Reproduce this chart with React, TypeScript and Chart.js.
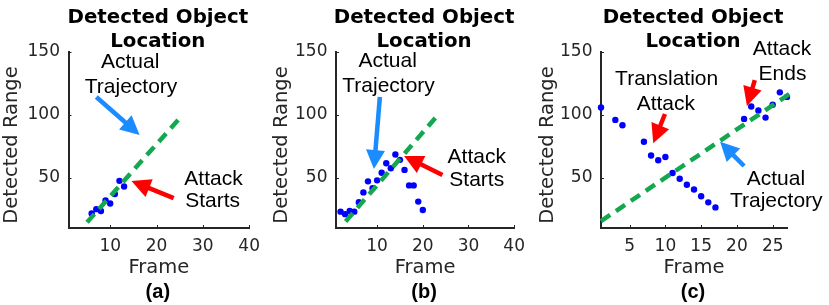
import React, { useEffect, useRef } from 'react';
import { Chart, registerables } from 'chart.js';

Chart.register(...registerables);

// ---------- data ----------
const yTickValues = [50, 100, 150];
const xTickValuesAB = [10, 20, 30, 40];
const xTickValuesC = [5, 10, 15, 20, 25];

const framesA = [6, 7, 8, 9, 10, 11, 12, 13];
const rangeA = [21.5, 25, 23.5, 32, 29.5, 37, 47.5, 43];
const trajFramesA = [5, 25.3];
const trajRangeA = [14.5, 98.6];

const framesB = [2, 3, 4, 5, 6, 7, 8, 9, 10, 11, 12, 13, 14, 15, 16, 17, 18, 19, 20];
const rangeB = [23, 21, 23.5, 23, 30.5, 38.3, 47.1, 41.7, 47.9, 54, 61.5, 57.5, 68.5, 64.2, 56.2, 43.9, 43.9, 31, 24.3];
const trajFramesB = [3.1, 23.4];
const trajRangeB = [15.2, 100.3];

const framesC = [1, 3, 4, 7, 8, 9, 10, 11, 12, 13, 14, 15, 16, 17, 21, 22, 23, 24, 25, 26, 27];
const rangeC = [105.9, 96, 91.7, 78.6, 67.7, 63.9, 66.5, 53.7, 49.2, 44.4, 40.6, 35.2, 30.4, 26.4, 96.8, 106.7, 103.5, 97.8, 108, 117.9, 114.3];
const trajFramesC = [1, 27.7];
const trajRangeC = [15.5, 118];

const titleLines = ['Detected Object', 'Location'];
const xLabel = 'Frame';
const yLabel = 'Detected Range';

// ---------- styles ----------
const AXIS = '#262626';
const GREEN = '#13a84f';
const DOT = '#0000ff';
const BLUE_ARROW = '#1a8cff';
const RED_ARROW = '#ff0000';

type Txt = { t: string; x: number; y: number };
type Arr = { x1: number; y1: number; x2: number; y2: number; c: string };

const panels = [
  {
    key: 'a', tag: '(a)', left: 0, width: 268, areaLeft: 68.5, xMax: 40, xTicks: xTickValuesAB, yLabelX: 11.7,
    frames: framesA, range: rangeA, tf: trajFramesA, tr: trajRangeA,
    texts: [
      { t: 'Actual', x: 14.3, y: 137.3 },
      { t: 'Trajectory', x: 14.5, y: 117.4 },
      { t: 'Attack', x: 32.3, y: 44.2 },
      { t: 'Starts', x: 32.1, y: 26.7 },
    ] as Txt[],
    arrows: [
      { x1: 7.0, y1: 114.2, x2: 16.35, y2: 84.0, c: BLUE_ARROW },
      { x1: 23.7, y1: 33.8, x2: 14.6, y2: 47.4, c: RED_ARROW },
    ] as Arr[],
  },
  {
    key: 'b', tag: '(b)', left: 268, width: 265, areaLeft: 68, xMax: 40, xTicks: xTickValuesAB, yLabelX: 13.7,
    frames: framesB, range: rangeB, tf: trajFramesB, tr: trajRangeB,
    texts: [
      { t: 'Actual', x: 12.3, y: 138.1 },
      { t: 'Trajectory', x: 12.5, y: 118.2 },
      { t: 'Attack', x: 31.8, y: 61.7 },
      { t: 'Starts', x: 31.8, y: 43.4 },
    ] as Txt[],
    arrows: [
      { x1: 10.6, y1: 114.2, x2: 9.3, y2: 56.9, c: BLUE_ARROW },
      { x1: 24.3, y1: 52.1, x2: 15.9, y2: 67.3, c: RED_ARROW },
    ] as Arr[],
  },
  {
    key: 'c', tag: '(c)', left: 533, width: 296, areaLeft: 68, xMax: 27, xTicks: xTickValuesC, yLabelX: 15.3,
    frames: framesC, range: rangeC, tf: trajFramesC, tr: trajRangeC,
    texts: [
      { t: 'Translation', x: 10.18, y: 123.7 },
      { t: 'Attack', x: 10.06, y: 103.9 },
      { t: 'Attack', x: 26.3, y: 147.6 },
      { t: 'Ends', x: 26.37, y: 127.7 },
      { t: 'Actual', x: 25.45, y: 44.2 },
      { t: 'Trajectory', x: 25.5, y: 26.7 },
    ] as Txt[],
    arrows: [
      { x1: 9.94, y1: 100.7, x2: 8.3, y2: 77.4, c: RED_ARROW },
      { x1: 22.5, y1: 127.7, x2: 21.4, y2: 107, c: RED_ARROW },
      { x1: 21.0, y1: 59.3, x2: 17.65, y2: 78.6, c: BLUE_ARROW },
    ] as Arr[],
  },
];

const AREA_W = 186;
const AREA_TOP = 52;
const AREA_BOTTOM = 228;
const H = 305;

function drawArrow(ctx: CanvasRenderingContext2D, x1: number, y1: number, x2: number, y2: number, color: string) {
  const ang = Math.atan2(y2 - y1, x2 - x1);
  const hl = 19;
  const hw = 9.5;
  const bx = x2 - hl * Math.cos(ang);
  const by = y2 - hl * Math.sin(ang);
  ctx.save();
  ctx.strokeStyle = color;
  ctx.lineWidth = 4.5;
  ctx.lineCap = 'butt';
  ctx.beginPath();
  ctx.moveTo(x1, y1);
  ctx.lineTo(bx + 2 * Math.cos(ang), by + 2 * Math.sin(ang));
  ctx.stroke();
  ctx.fillStyle = color;
  ctx.beginPath();
  ctx.moveTo(x2, y2);
  ctx.lineTo(bx + hw * Math.sin(ang), by - hw * Math.cos(ang));
  ctx.lineTo(bx - hw * Math.sin(ang), by + hw * Math.cos(ang));
  ctx.closePath();
  ctx.fill();
  ctx.restore();
}

function Panel({ p }: { p: (typeof panels)[number] }) {
  const ref = useRef<HTMLCanvasElement | null>(null);
  useEffect(() => {
    const canvas = ref.current;
    if (!canvas) return;
    const deco = {
      id: 'deco-' + p.key,
      afterDraw(chart: any) {
        const ctx: CanvasRenderingContext2D = chart.ctx;
        const xs = chart.scales.x;
        const ys = chart.scales.y;
        const area = chart.chartArea;
        ctx.save();
        // inward tick marks
        ctx.strokeStyle = AXIS;
        ctx.lineWidth = 1;
        p.xTicks.forEach((v) => {
          const px = Math.round(xs.getPixelForValue(v)) + 0.5;
          ctx.beginPath();
          ctx.moveTo(px, area.bottom);
          ctx.lineTo(px, area.bottom - 3);
          ctx.stroke();
        });
        yTickValues.forEach((v) => {
          const py = Math.round(ys.getPixelForValue(v)) + 0.5;
          ctx.beginPath();
          ctx.moveTo(area.left, py);
          ctx.lineTo(area.left + 3, py);
          ctx.stroke();
        });
        // y axis label
        ctx.save();
        ctx.translate(p.yLabelX, (area.top + area.bottom) / 2 + 5);
        ctx.rotate(-Math.PI / 2);
        ctx.fillStyle = AXIS;
        ctx.textAlign = 'center';
        ctx.textBaseline = 'middle';
        ctx.font = '19.5px "DejaVu Sans"';
        ctx.fillText(yLabel, 0, 0);
        ctx.restore();
        // title
        const cx = (area.left + area.right) / 2 - 1;
        ctx.fillStyle = '#000';
        ctx.textAlign = 'center';
        ctx.textBaseline = 'alphabetic';
        ctx.font = 'bold 19.8px "DejaVu Sans"';
        ctx.fillText(titleLines[0], cx, 22.7);
        ctx.fillText(titleLines[1], cx, 46.7);
        // panel tag
        ctx.font = 'bold 20px "Liberation Sans"';
        ctx.fillText(p.tag, cx, 298);
        // annotation texts
        ctx.font = '21px "Liberation Sans"';
        p.texts.forEach((t) => {
          ctx.fillText(t.t, xs.getPixelForValue(t.x), ys.getPixelForValue(t.y));
        });
        ctx.restore();
        p.arrows.forEach((a) => {
          drawArrow(ctx, xs.getPixelForValue(a.x1), ys.getPixelForValue(a.y1), xs.getPixelForValue(a.x2), ys.getPixelForValue(a.y2), a.c);
        });
      },
    };
    const chart = new Chart(canvas, {
      type: 'scatter',
      data: {
        datasets: [
          {
            data: p.tf.map((f, i) => ({ x: f, y: p.tr[i] })),
            showLine: true,
            borderColor: GREEN,
            borderWidth: 4.5,
            borderDash: [11, 7],
            borderCapStyle: 'butt',
            pointRadius: 0,
            clip: false as any,
          } as any,
          {
            data: p.frames.map((f, i) => ({ x: f, y: p.range[i] })),
            backgroundColor: DOT,
            borderColor: DOT,
            borderWidth: 0,
            pointRadius: 3.2,
            clip: false as any,
          } as any,
        ],
      },
      options: {
        responsive: false,
        animation: false,
        events: [],
        layout: {
          autoPadding: false,
          padding: { left: 0, top: AREA_TOP, right: p.width - p.areaLeft - AREA_W, bottom: 0 },
        },
        plugins: { legend: { display: false }, tooltip: { enabled: false }, title: { display: false } },
        scales: {
          x: {
            type: 'linear',
            min: 1,
            max: p.xMax,
            afterFit: (s: any) => { s.height = H - AREA_BOTTOM; },
            afterBuildTicks: (s: any) => { s.ticks = p.xTicks.map((v) => ({ value: v })); },
            grid: { display: false, drawTicks: false },
            border: { display: true, color: AXIS, width: 2 },
            ticks: { padding: 8, color: AXIS, autoSkip: false, maxRotation: 0, font: { family: 'DejaVu Sans', size: 17 } },
            title: { display: true, text: xLabel, color: AXIS, font: { family: 'DejaVu Sans', size: 19.5 }, padding: { top: 0, bottom: 25 } },
          },
          y: {
            type: 'linear',
            min: 10,
            max: 150,
            afterFit: (s: any) => { s.width = p.areaLeft; },
            afterBuildTicks: (s: any) => { s.ticks = yTickValues.map((v) => ({ value: v })); },
            grid: { display: false, drawTicks: false },
            border: { display: true, color: AXIS, width: 2 },
            ticks: { padding: 8.5, color: AXIS, font: { family: 'DejaVu Sans', size: 17 } },
            title: { display: false },
          },
        },
      } as any,
      plugins: [deco as any],
    });
    return () => chart.destroy();
  }, [p]);
  return (
    <canvas
      ref={ref}
      width={p.width}
      height={H}
      style={{ position: 'absolute', left: p.left, top: 0, width: p.width, height: H, display: 'block' }}
    />
  );
}

export default function App() {
  return (
    <div style={{ position: 'fixed', left: 0, top: 0, width: 829, height: H, background: '#fff', overflow: 'hidden' }}>
      {panels.map((p) => (
        <Panel key={p.key} p={p} />
      ))}
    </div>
  );
}
